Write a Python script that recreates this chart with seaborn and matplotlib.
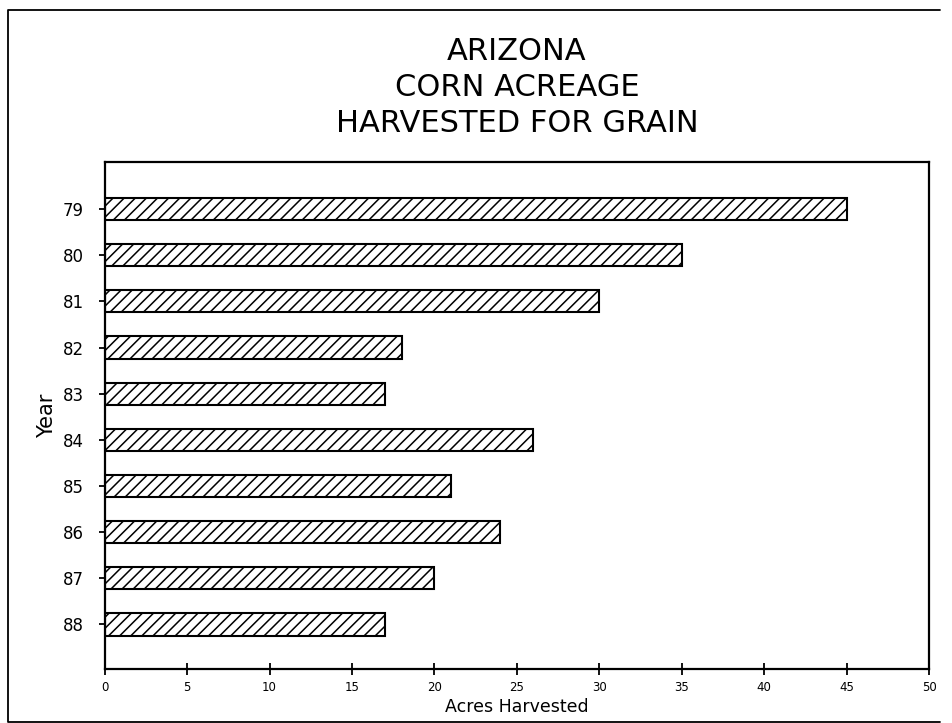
import pandas as pd
import matplotlib.pyplot as plt
import seaborn as sns

years = ['79', '80', '81', '82', '83', '84', '85', '86', '87', '88']
acres = [45, 35, 30, 18, 17, 26, 21, 24, 20, 17]
xticks = [0, 5, 10, 15, 20, 25, 30, 35, 40, 45, 50]

df = pd.DataFrame({'Year': years, 'Acres': acres})

sns.set_style('white')
plt.rcParams['font.family'] = ['DejaVu Sans']
plt.rcParams['hatch.linewidth'] = 1.1
plt.rcParams['text.color'] = 'black'
plt.rcParams['axes.labelcolor'] = 'black'
plt.rcParams['xtick.color'] = 'black'
plt.rcParams['ytick.color'] = 'black'

fig = plt.figure(figsize=(9.52, 7.23), dpi=100)
ax = fig.add_axes([0.110, 0.075, 0.866, 0.701])

sns.barplot(data=df, x='Acres', y='Year', orient='h', ax=ax,
            color='white', edgecolor='black', linewidth=1.5,
            hatch='///', width=0.48)

ax.set_xlim(0, 50)
ax.set_ylim(9.96, -1.02)
ax.set_xticks(xticks)
ax.set_xticklabels([str(t) for t in xticks], fontsize=8.5)
ax.tick_params(axis='y', left=True, labelsize=12, direction='inout',
               length=8, width=1.3, pad=11)
ax.tick_params(axis='x', bottom=True, direction='inout',
               length=8, width=1.3, pad=5)
for s in ax.spines.values():
    s.set_color('black')
    s.set_linewidth(1.6)

ax.set_xlabel('Acres Harvested', fontsize=12.5, labelpad=3)
ax.set_ylabel('Year', fontsize=15, labelpad=4)

fig.text(0.543, 0.879, 'ARIZONA\nCORN ACREAGE\nHARVESTED FOR GRAIN',
         ha='center', va='center', fontsize=22, linespacing=1.32)

# outer frame (left, top, bottom edges)
x0, x1 = 8 / 952, 940 / 952
y0, y1 = 1 / 723, 713 / 723
fig.add_artist(plt.Line2D([x1, x0, x0, x1], [y1, y1, y0, y0],
                          transform=fig.transFigure, color='black', linewidth=1.3))

plt.savefig('out.png', dpi=100)
